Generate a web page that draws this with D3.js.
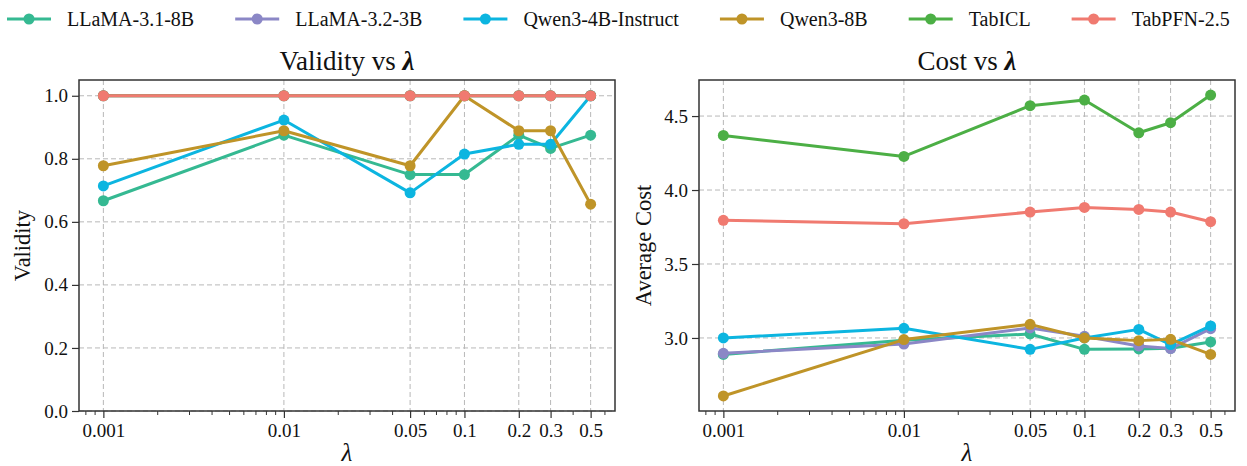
<!DOCTYPE html>
<html>
<head>
<meta charset="utf-8">
<script src="https://cdn.jsdelivr.net/npm/d3@7"></script>
<style>
  body { margin: 0; background: #fff; }
  svg { display: block; font-family: "Liberation Serif", "Times New Roman", serif; }
</style>
</head>
<body>
<svg id="chart" width="1247" height="466"></svg>
<script>
// ---------------- data ----------------
const lambdas = [0.001, 0.01, 0.05, 0.1, 0.2, 0.3, 0.5];
const lambdaLabels = ["0.001", "0.01", "0.05", "0.1", "0.2", "0.3", "0.5"];
const seriesNames = ["LLaMA-3.1-8B", "LLaMA-3.2-3B", "Qwen3-4B-Instruct", "Qwen3-8B", "TabICL", "TabPFN-2.5"];
const seriesColors = ["#35b992", "#8b87c6", "#0cb5e0", "#bf9428", "#4caf45", "#f07a70"];

const validityLlama31 = [0.667, 0.875, 0.75, 0.75, 0.875, 0.833, 0.875];
const validityLlama32 = [1, 1, 1, 1, 1, 1, 1];
const validityQwen4b  = [0.714, 0.923, 0.692, 0.815, 0.846, 0.846, 1.0];
const validityQwen8b  = [0.778, 0.889, 0.778, 1.0, 0.889, 0.889, 0.656];
const validityTabICL  = [1, 1, 1, 1, 1, 1, 1];
const validityTabPFN  = [1, 1, 1, 1, 1, 1, 1];

const costLlama31 = [2.889, 2.985, 3.027, 2.923, 2.926, 2.930, 2.973];
const costLlama32 = [2.896, 2.959, 3.068, 3.011, 2.946, 2.928, 3.063];
const costQwen4b  = [3.000, 3.065, 2.923, 3.000, 3.058, 2.955, 3.081];
const costQwen8b  = [2.608, 2.989, 3.092, 3.000, 2.982, 2.991, 2.889];
const costTabICL  = [4.369, 4.227, 4.570, 4.608, 4.387, 4.455, 4.642];
const costTabPFN  = [3.795, 3.772, 3.851, 3.882, 3.869, 3.851, 3.786];

const validityTicks = [0.0, 0.2, 0.4, 0.6, 0.8, 1.0];
const costTicks = [3.0, 3.5, 4.0, 4.5];

const validitySeries = [validityLlama31, validityLlama32, validityQwen4b, validityQwen8b, validityTabICL, validityTabPFN];
const costSeries = [costLlama31, costLlama32, costQwen4b, costQwen8b, costTabICL, costTabPFN];

// ---------------- drawing ----------------
const svg = d3.select("#chart");
const TOP = 80, BOTTOM = 411;
const FONT = '"Liberation Serif", "Times New Roman", serif';

function logDomain(vals) {
  const lo = Math.log10(d3.min(vals)), hi = Math.log10(d3.max(vals));
  const m = 0.05 * (hi - lo);
  return [Math.pow(10, lo - m), Math.pow(10, hi + m)];
}

function drawPanel(opts) {
  const { left, right, series, yDomain, yTicks, yFmt, title, ylabel, ylabelX } = opts;
  const x = d3.scaleLog().domain(logDomain(lambdas)).range([left, right]);
  const y = d3.scaleLinear().domain(yDomain).range([BOTTOM, TOP]);
  const g = svg.append("g");

  // grid
  g.append("g").selectAll("line.vg").data(lambdas).join("line")
    .attr("x1", d => x(d)).attr("x2", d => x(d)).attr("y1", TOP).attr("y2", BOTTOM)
    .attr("stroke", "#b8b8b8").attr("stroke-width", 1).attr("stroke-dasharray", "5,3");
  g.append("g").selectAll("line.hg").data(yTicks).join("line")
    .attr("x1", left).attr("x2", right).attr("y1", d => y(d)).attr("y2", d => y(d))
    .attr("stroke", "#b8b8b8").attr("stroke-width", 1).attr("stroke-dasharray", "5,3");

  // minor ticks (log)
  const dom = x.domain();
  const minors = [];
  for (let e = -4; e <= 0; e++) {
    for (let k = 1; k <= 9; k++) {
      const v = k * Math.pow(10, e);
      if (v >= dom[0] && v <= dom[1] && !lambdas.some(l => Math.abs(l - v) < 1e-9)) minors.push(v);
    }
  }
  g.append("g").selectAll("line").data(minors).join("line")
    .attr("x1", d => x(d)).attr("x2", d => x(d)).attr("y1", BOTTOM).attr("y2", BOTTOM + 4)
    .attr("stroke", "#333").attr("stroke-width", 1);

  // x axis
  const xAxis = d3.axisBottom(x).tickValues(lambdas).tickFormat((d, i) => lambdaLabels[i])
    .tickSize(7).tickPadding(6);
  const xg = g.append("g").attr("transform", `translate(0,${BOTTOM})`).call(xAxis);
  xg.select(".domain").remove();
  xg.selectAll(".tick line").attr("stroke", "#333").attr("stroke-width", 1.2);
  xg.selectAll(".tick text").attr("font-family", FONT).attr("font-size", 19).attr("fill", "#111");

  // y axis
  const yAxis = d3.axisLeft(y).tickValues(yTicks).tickFormat(yFmt).tickSize(7).tickPadding(4);
  const yg = g.append("g").attr("transform", `translate(${left},0)`).call(yAxis);
  yg.select(".domain").remove();
  yg.selectAll(".tick line").attr("stroke", "#333").attr("stroke-width", 1.2);
  yg.selectAll(".tick text").attr("font-family", FONT).attr("font-size", 19).attr("fill", "#111");

  // series
  const line = d3.line().x((d, i) => x(lambdas[i])).y(d => y(d));
  series.forEach((vals, si) => {
    const sg = g.append("g");
    sg.append("path").datum(vals).attr("d", line).attr("fill", "none")
      .attr("stroke", seriesColors[si]).attr("stroke-width", 3).attr("stroke-linejoin", "round");
    sg.selectAll("circle").data(vals).join("circle")
      .attr("cx", (d, i) => x(lambdas[i])).attr("cy", d => y(d)).attr("r", 5.5)
      .attr("fill", seriesColors[si]);
  });

  // frame
  g.append("rect").attr("x", left).attr("y", TOP).attr("width", right - left).attr("height", BOTTOM - TOP)
    .attr("fill", "none").attr("stroke", "#333").attr("stroke-width", 1.5);

  // title
  const t = g.append("text").attr("x", (left + right) / 2).attr("y", 70).attr("text-anchor", "middle")
    .attr("font-family", FONT).attr("font-size", 27).attr("fill", "#111");
  t.append("tspan").text(title + " ");
  t.append("tspan").text("λ").attr("font-weight", "bold").attr("font-style", "italic");

  // x label
  g.append("text").attr("x", (left + right) / 2).attr("y", 461).attr("text-anchor", "middle")
    .attr("font-family", FONT).attr("font-size", 25).attr("font-style", "italic").attr("fill", "#111").text("λ");

  // y label
  g.append("text").attr("transform", `translate(${ylabelX},${(TOP + BOTTOM) / 2}) rotate(-90)`)
    .attr("text-anchor", "middle").attr("font-family", FONT).attr("font-size", 22.5).attr("fill", "#111")
    .text(ylabel);
}

drawPanel({
  left: 79, right: 615, series: validitySeries, yDomain: [0, 1.05], yTicks: validityTicks,
  yFmt: d3.format(".1f"), title: "Validity vs", ylabel: "Validity", ylabelX: 30
});

const allCost = costSeries.flat();
const cMin = d3.min(allCost), cMax = d3.max(allCost), cPad = 0.05 * (cMax - cMin);
drawPanel({
  left: 699, right: 1235, series: costSeries, yDomain: [cMin - cPad, cMax + cPad], yTicks: costTicks,
  yFmt: d3.format(".1f"), title: "Cost vs", ylabel: "Average Cost", ylabelX: 651
});

// legend
const lg = svg.append("g");
let lx = 7;
seriesNames.forEach((name, i) => {
  const item = lg.append("g");
  item.append("line").attr("x1", lx).attr("x2", lx + 44).attr("y1", 19).attr("y2", 19)
    .attr("stroke", seriesColors[i]).attr("stroke-width", 3);
  item.append("circle").attr("cx", lx + 22).attr("cy", 19).attr("r", 5.5).attr("fill", seriesColors[i]);
  const txt = item.append("text").attr("x", lx + 60).attr("y", 26).attr("font-family", FONT)
    .attr("font-size", 20).attr("fill", "#111").text(name);
  const w = txt.node().getComputedTextLength();
  lx = lx + 60 + w + 41;
});
</script>
</body>
</html>
